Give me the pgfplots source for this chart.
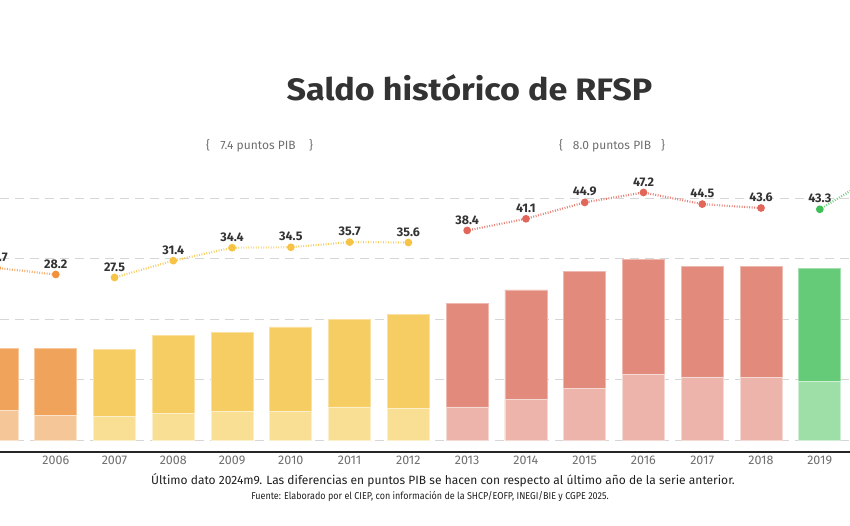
\documentclass[border=0pt]{standalone}
\usepackage{fontspec}
\setmainfont{Fira Sans}
\usepackage{pgfplots}
\usepackage{pgfplotstable}
\pgfplotsset{compat=1.18}

\definecolor{foxD}{HTML}{F0A35A}
\definecolor{foxL}{HTML}{F5C697}
\definecolor{felD}{HTML}{F6CD62}
\definecolor{felL}{HTML}{F9DF93}
\definecolor{epnD}{HTML}{E28A7B}
\definecolor{epnL}{HTML}{ECB4AA}
\definecolor{amlD}{HTML}{66CB78}
\definecolor{amlL}{HTML}{9EDFA8}
\definecolor{foxP}{HTML}{F2913C}
\definecolor{felP}{HTML}{F6C344}
\definecolor{epnP}{HTML}{E0675A}
\definecolor{amlP}{HTML}{3FC057}
\definecolor{gridc}{HTML}{D6D6D6}
\definecolor{txt}{HTML}{333333}
\definecolor{ticktxt}{HTML}{6E6E6E}

% bars: total and lower part (billones de pesos, scale 5 per gridline)
\pgfplotstableread{
year total lower
2005 7.58 2.48
2006 7.58 2.07
}\fox
\pgfplotstableread{
year total lower
2007 7.50 1.93
2008 8.68 2.20
2009 8.90 2.34
2010 9.36 2.34
2011 10.00 2.75
2012 10.39 2.62
}\fel
\pgfplotstableread{
year total lower
2013 11.32 2.75
2014 12.42 3.36
2015 13.94 4.24
2016 14.93 5.43
2017 14.35 5.23
2018 14.35 5.18
}\epn
\pgfplotstableread{
year total lower
2019 14.19 4.88
}\aml

\begin{document}
\begin{tikzpicture}[x=1pt,y=1pt]
\begin{scope}
\clip (0,0) rectangle (850,526);

% bars axis
\begin{axis}[
  name=bars,
  at={(0,61)}, anchor=south west,
  scale only axis, width=850pt, height=332pt,
  xmin=2005.051, xmax=2019.514,
  ymin=-0.9917, ymax=26.446,
  clip=false,
  axis x line*=bottom, axis y line*=left,
  y axis line style={draw=none},
  x axis line style={draw=black!85, line width=1.6pt, -},
  ytick={0,5,10,15,20}, yticklabels={},
  ymajorgrids,
  major grid style={draw=gridc, line width=1.3pt, dash pattern=on 9pt off 6pt},
  xtick={2005,...,2019},
  xticklabels={2005,2006,2007,2008,2009,2010,2011,2012,2013,2014,2015,2016,2017,2018,2019},
  xticklabel style={anchor=north, inner sep=0pt, yshift=-3.5pt, font=\fontsize{12.5}{14}\selectfont, text=ticktxt},
  major tick length=0pt,
  ybar, bar shift=0pt, bar width=0.715,
]
\addplot[fill=foxD, draw=foxD!60!white, line width=0.8pt] table[x=year,y=total]{\fox};
\addplot[fill=foxL, draw=foxL!50!white, line width=0.8pt] table[x=year,y=lower]{\fox};
\addplot[fill=felD, draw=felD!60!white, line width=0.8pt] table[x=year,y=total]{\fel};
\addplot[fill=felL, draw=felL!50!white, line width=0.8pt] table[x=year,y=lower]{\fel};
\addplot[fill=epnD, draw=epnD!60!white, line width=0.8pt] table[x=year,y=total]{\epn};
\addplot[fill=epnL, draw=epnL!50!white, line width=0.8pt] table[x=year,y=lower]{\epn};
\addplot[fill=amlD, draw=amlD!60!white, line width=0.8pt] table[x=year,y=total]{\aml};
\addplot[fill=amlL, draw=amlL!50!white, line width=0.8pt] table[x=year,y=lower]{\aml};
\end{axis}

% line axis (% del PIB)
\begin{axis}[
  at={(bars.south west)}, anchor=south west,
  scale only axis, width=850pt, height=332pt,
  xmin=2005.051, xmax=2019.514,
  ymin=-12.975, ymax=63.95,
  clip=false,
  axis lines=none, ticks=none,
  /pgf/number format/assume math mode=true,
  nodes near coords={\pgfmathprintnumber[fixed,fixed zerofill,precision=1]{\pgfplotspointmeta}},
  every node near coord/.append style={font=\fontsize{12.5}{14}\selectfont\bfseries, text=txt, anchor=south, inner sep=0pt, yshift=5pt},
  mark size=2.7pt,
]
\addplot[draw=foxP!80!white, line width=2.2pt, dash pattern=on 0.9pt off 1.6pt, mark=*, mark options={solid, fill=foxP, draw=foxP}] coordinates {(2005,29.7) (2006,28.2)};
\addplot[draw=felP!85!white, line width=2.2pt, dash pattern=on 0.9pt off 1.6pt, mark=*, mark options={solid, fill=felP, draw=felP}] coordinates {(2007,27.5) (2008,31.4) (2009,34.4) (2010,34.5) (2011,35.7) (2012,35.6)};
\addplot[draw=epnP!85!white, line width=2.2pt, dash pattern=on 0.9pt off 1.6pt, mark=*, mark options={solid, fill=epnP, draw=epnP}] coordinates {(2013,38.4) (2014,41.1) (2015,44.9) (2016,47.2) (2017,44.5) (2018,43.6)};
\addplot[draw=amlP!75!white, line width=2.2pt, dash pattern=on 0.9pt off 1.6pt, mark=*, mark options={solid, fill=amlP, draw=amlP}] coordinates {(2019,43.3) (2020,51.5)};
\end{axis}

% texts
\node[anchor=base, text=txt, font=\fontsize{31}{34}\selectfont\bfseries, inner sep=0pt] at (469.5,425.3) {\scalebox{1.1}[1]{Saldo histórico de RFSP}};
\begin{scope}[every node/.style={anchor=base, inner sep=0pt, text=ticktxt, font=\fontsize{12}{14}\selectfont}]
\node at (208,376) {\{};
\node at (258,376) {7.4 puntos PIB};
\node at (311,376) {\}};
\node at (561,376) {\{};
\node at (612,376) {8.0 puntos PIB};
\node at (663,376) {\}};
\end{scope}
\node[anchor=base, inner sep=0pt, text=black!88, font=\fontsize{12}{14}\selectfont] at (443,41) {Último dato 2024m9. Las diferencias en puntos PIB se hacen con respecto al último año de la serie anterior.};
\node[anchor=base, inner sep=0pt, text=black!88, font=\fontsize{10}{12}\selectfont] at (430,26.7) {\scalebox{0.9}[1]{Fuente: Elaborado por el CIEP, con información de la SHCP/EOFP, INEGI/BIE y CGPE 2025.}};
\end{scope}
\pgfresetboundingbox
\useasboundingbox (0,0) rectangle (850,526);
\end{tikzpicture}
\end{document}
